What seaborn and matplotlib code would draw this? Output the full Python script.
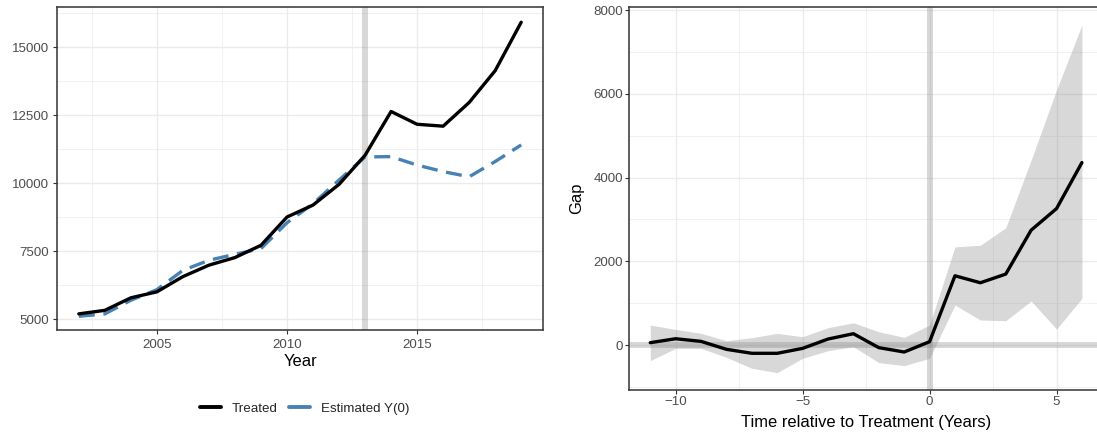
import matplotlib
matplotlib.use("Agg")
import matplotlib.pyplot as plt
import seaborn as sns
import pandas as pd
from matplotlib.ticker import MultipleLocator
from matplotlib.lines import Line2D

# ---------------- data ----------------
years = list(range(2002, 2020))
treated = [5200, 5330, 5790, 6010, 6570, 6990, 7270, 7720, 8760, 9200,
           9960, 11030, 12640, 12170, 12100, 12970, 14140, 15920]
estimated_y0 = [5110, 5200, 5700, 6090, 6800, 7170, 7390, 7600, 8550, 9250,
                10120, 10970, 10980, 10670, 10430, 10240, 10800, 11410]
treatment_year = 2013

rel_time = list(range(-11, 7))
gap = [56, 150, 87, -103, -198, -198, -80, 143, 270, -63, -167, 79,
       1655, 1488, 1695, 2745, 3260, 4360]
gap_lower = [-373, -79, -79, -294, -556, -659, -318, -135, -40, -421, -492, -318,
             956, 598, 582, 1052, 382, 1116]
gap_upper = [476, 373, 278, 103, 175, 278, 198, 413, 532, 317, 183, 476,
             2345, 2385, 2800, 4420, 6095, 7648]

legend_labels = ["Treated", "Estimated Y(0)"]
left_xticks = [2005, 2010, 2015]
left_yticks = [5000, 7500, 10000, 12500, 15000]
right_xticks = [-10, -5, 0, 5]
right_yticks = [0, 2000, 4000, 6000, 8000]

# ---------------- style ----------------
sns.set_theme(style="white")
plt.rcParams["font.family"] = ["Liberation Sans", "DejaVu Sans"]

BLACK = "#000000"
BLUE = "#4682B4"
GRID = "#EBEBEB"
BORDER = "#333333"
TICKLAB = "#4D4D4D"
REF = "#7F7F7F"
TICK_FS = 9.6
TITLE_FS = 11.9

W, H = 1097, 437
fig = plt.figure(figsize=(W / 100, H / 100), dpi=100)
ax1 = fig.add_axes([56.7 / W, 1 - 330 / H, (543.3 - 56.7) / W, (330 - 7.3) / H])
ax2 = fig.add_axes([628.7 / W, 1 - 390 / H, (1103.5 - 628.7) / W, (390 - 7.3) / H])


def style(ax, xpad, ypad):
    for s in ax.spines.values():
        s.set_color(BORDER)
        s.set_linewidth(1.1)
        s.set_visible(True)
    ax.set_axisbelow(True)
    ax.grid(which="major", color=GRID, lw=1.0)
    ax.grid(which="minor", color=GRID, lw=0.5)
    ax.tick_params(which="major", length=2.75, width=0.8, color=BORDER,
                   labelcolor=TICKLAB, labelsize=TICK_FS, bottom=True, left=True)
    ax.tick_params(axis="x", which="major", pad=xpad)
    ax.tick_params(axis="y", which="major", pad=ypad)
    ax.tick_params(which="minor", length=0, bottom=False, left=False)


# ---------------- left panel ----------------
df_left = pd.DataFrame({"Year": years + years,
                        "value": treated + estimated_y0,
                        "series": [legend_labels[0]] * len(years) + [legend_labels[1]] * len(years)})

ax1.axvline(treatment_year, color=REF, alpha=0.3, lw=4.3, zorder=1)
sns.lineplot(data=df_left[df_left.series == legend_labels[1]], x="Year", y="value",
             color=BLUE, lw=2.4, linestyle=(0, (4.8, 2.6)), ax=ax1, zorder=3,
             legend=False)
sns.lineplot(data=df_left[df_left.series == legend_labels[0]], x="Year", y="value",
             color=BLACK, lw=2.4, ax=ax1, zorder=4, legend=False)

ax1.set_xlim(2001.15, 2019.85)
ax1.set_ylim(4607, 16470)
ax1.set_xticks(left_xticks)
ax1.set_yticks(left_yticks)
ax1.xaxis.set_minor_locator(MultipleLocator(2.5))
ax1.yaxis.set_minor_locator(MultipleLocator(1250))
style(ax1, xpad=4.0, ypad=3.0)
ax1.set_xlabel("Year", fontsize=TITLE_FS, color="black", va="center")
ax1.xaxis.set_label_coords(0.5, (330 - 361.7) / (330 - 7.3))
ax1.set_ylabel("")

# ---------------- right panel ----------------
df_right = pd.DataFrame({"t": rel_time, "gap": gap, "lo": gap_lower, "hi": gap_upper})
ax2.fill_between(df_right["t"], df_right["lo"], df_right["hi"], color=REF,
                 alpha=0.3, lw=0, zorder=1.5)
ax2.axhline(0, color=REF, alpha=0.3, lw=4.3, zorder=2)
ax2.axvline(0, color=REF, alpha=0.3, lw=4.3, zorder=2)
sns.lineplot(data=df_right, x="t", y="gap", color=BLACK, lw=2.4, ax=ax2, zorder=4)

ax2.set_xlim(-11.85, 6.85)
ax2.set_ylim(-1075, 8071)
ax2.set_xticks(right_xticks)
ax2.set_xticklabels(["\u221210", "\u22125", "0", "5"])
ax2.set_yticks(right_yticks)
ax2.xaxis.set_minor_locator(MultipleLocator(2.5))
ax2.yaxis.set_minor_locator(MultipleLocator(1000))
style(ax2, xpad=1.8, ypad=1.2)
ax2.set_xlabel("Time relative to Treatment (Years)", fontsize=TITLE_FS, color="black", va="center")
ax2.xaxis.set_label_coords(0.5, (390 - 423) / (390 - 7.3))
ax2.set_ylabel("Gap", fontsize=TITLE_FS, color="black", va="center")
ax2.yaxis.set_label_coords((577 - 628.7) / (1103.5 - 628.7), 0.5)

# ---------------- legend ----------------
handles = [Line2D([0], [0], color=BLACK, lw=2.8),
           Line2D([0], [0], color=BLUE, lw=2.8)]
fig.legend(handles, legend_labels, loc="center",
           bbox_to_anchor=(304.5 / W, 1 - 409 / H), ncol=2, frameon=False,
           fontsize=TICK_FS, handlelength=1.56, handletextpad=0.82, columnspacing=0.85)

fig.savefig("out.png", dpi=100)
